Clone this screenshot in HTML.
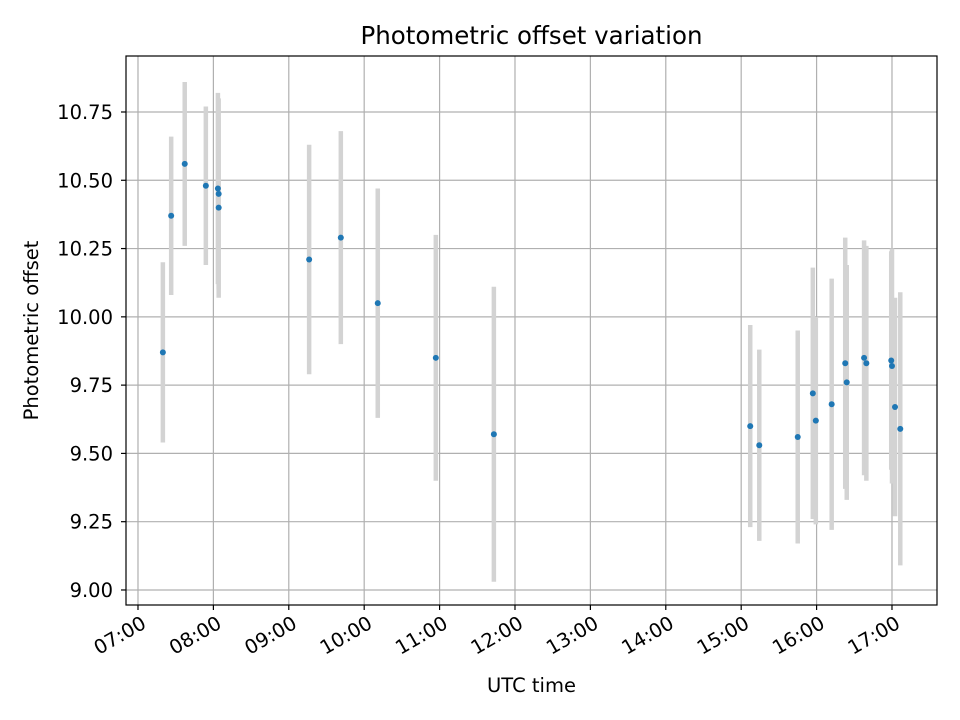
<!DOCTYPE html>
<html><head><meta charset="utf-8"><style>
html,body{margin:0;padding:0;background:#fff;width:960px;height:720px;overflow:hidden}
svg text{font-family:"DejaVu Sans","Liberation Sans",sans-serif;fill:#000}
</style></head><body>
<svg id="chart" width="960" height="720" xmlns="http://www.w3.org/2000/svg">
<rect width="960" height="720" fill="#fff"/>
<g id="grid"></g><g id="bars"></g><g id="pts"></g><g id="axes"></g>
</svg>
<script>
const times = [7.33,7.44,7.62,7.90,8.06,8.07,8.07,9.27,9.69,10.18,10.95,11.72,15.12,15.24,15.75,15.95,15.99,16.20,16.38,16.40,16.63,16.66,16.99,17.00,17.04,17.11];
const offsets = [9.87,10.37,10.56,10.48,10.47,10.45,10.40,10.21,10.29,10.05,9.85,9.57,9.60,9.53,9.56,9.72,9.62,9.68,9.83,9.76,9.85,9.83,9.84,9.82,9.67,9.59];
const errors = [0.33,0.29,0.30,0.29,0.35,0.35,0.33,0.42,0.39,0.42,0.45,0.54,0.37,0.35,0.39,0.46,0.38,0.46,0.46,0.43,0.43,0.43,0.40,0.43,0.40,0.50];
const xTicks = [7,8,9,10,11,12,13,14,15,16,17];
const xTickLabels = ["07:00","08:00","09:00","10:00","11:00","12:00","13:00","14:00","15:00","16:00","17:00"];
const yTicks = [9.0,9.25,9.5,9.75,10.0,10.25,10.5,10.75];
const yTickLabels = ["9.00","9.25","9.50","9.75","10.00","10.25","10.50","10.75"];

const L=126,R=937,T=56,B=605;
const xMin=6.841,xMax=17.597,yMin=8.945,yMax=10.955;
const X=h=>L+(h-xMin)/(xMax-xMin)*(R-L);
const Y=v=>B-(v-yMin)/(yMax-yMin)*(B-T);
const NS="http://www.w3.org/2000/svg";
function mk(tag,attrs,parent,text){const e=document.createElementNS(NS,tag);for(const k in attrs)e.setAttribute(k,attrs[k]);if(text!==undefined)e.textContent=text;parent.appendChild(e);return e;}
const grid=document.getElementById('grid'),bars=document.getElementById('bars'),pts=document.getElementById('pts'),axes=document.getElementById('axes');

xTicks.forEach((t,i)=>{
  const x=X(t);
  const g=mk('line',{x1:x,x2:x,y1:T,y2:B,stroke:'#b0b0b0','stroke-width':1.2},grid);
  
  
  const tk=mk('line',{x1:x,x2:x,y1:B,y2:B+5,stroke:'#000','stroke-width':1.2},axes);
  
  
  const lb=mk('text',{x:0,y:15,'text-anchor':'end','font-size':'19.5',transform:`translate(${x+2} ${B+9}) rotate(-30)`},axes,xTickLabels[i]);
  
  
});
yTicks.forEach((t,i)=>{
  const y=Y(t);
  const g=mk('line',{x1:L,x2:R,y1:y,y2:y,stroke:'#b0b0b0','stroke-width':1.2},grid);
  
  
  const tk=mk('line',{x1:L-5,x2:L,y1:y,y2:y,stroke:'#000','stroke-width':1.2},axes);
  
  
  const lb=mk('text',{x:L-13,y:y+7,'text-anchor':'end','font-size':'19.5'},axes,yTickLabels[i]);
  
  
});
times.forEach((t,i)=>{
  const x=X(t);
  const b=mk('line',{x1:x,x2:x,y1:Y(offsets[i]+errors[i]),y2:Y(offsets[i]-errors[i]),stroke:'#d3d3d3','stroke-width':4.5},bars);
  
  
});
times.forEach((t,i)=>{
  const c=mk('circle',{cx:X(t),cy:Y(offsets[i]),r:3,fill:'#1f77b4'},pts);
  
  
});
const fr=mk('rect',{x:L,y:T,width:R-L,height:B-T,fill:'none',stroke:'#000','stroke-width':1.2},axes);


const ti=mk('text',{x:(L+R)/2,y:44,'text-anchor':'middle','font-size':'24.5'},axes,'Photometric offset variation');


const xt=mk('text',{x:(L+R)/2,y:692,'text-anchor':'middle','font-size':'19.5'},axes,'UTC time');


const yt=mk('text',{x:0,y:0,'text-anchor':'middle','font-size':'19.5',transform:`translate(38 ${(T+B)/2}) rotate(-90)`},axes,'Photometric offset');


</script>
</body></html>
